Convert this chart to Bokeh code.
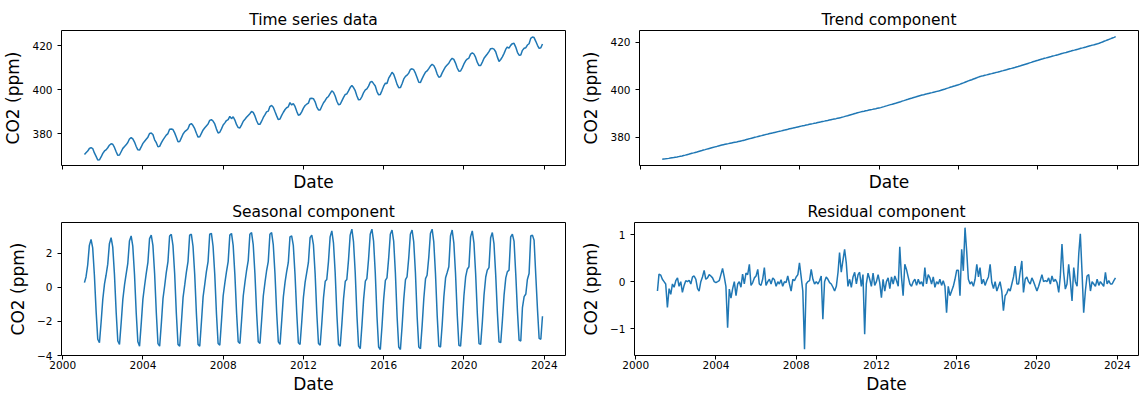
import numpy as np
import pandas as pd
from datetime import datetime
from bokeh.plotting import figure
from bokeh.layouts import column, row
from bokeh.models import (Range1d, FixedTicker, DatetimeTickFormatter, ColumnDataSource,
                          CustomLabelingPolicy)
from bokeh.embed import file_html
from bokeh.resources import INLINE

# ---------------- data (monthly, Jan 2001 .. Nov 2023, month-end dates) ----------------
first_month = "2001-02"   # month after the first month-end date
stop_month = "2024-01"

observed = [
    370.67, 371.46, 372.24, 373.40, 373.80, 373.37, 371.39, 369.81, 368.16, 368.30, 369.57, 371.19,  # 2001
    372.28, 372.78, 373.72, 374.88, 375.57, 375.31, 373.88, 371.90, 370.31, 370.45, 371.92, 373.45,  # 2002
    374.30, 375.05, 376.10, 377.70, 378.34, 377.74, 376.31, 374.32, 372.78, 372.68, 374.09, 375.70,  # 2003
    376.70, 377.58, 378.52, 380.20, 380.37, 379.72, 377.34, 376.01, 374.16, 374.35, 375.95, 377.30,  # 2004
    378.45, 379.43, 380.14, 382.11, 382.19, 381.96, 380.47, 378.53, 376.46, 376.59, 378.22, 379.94,  # 2005
    381.01, 381.57, 382.36, 384.21, 384.68, 383.77, 382.37, 380.28, 378.54, 378.73, 380.26, 381.79,  # 2006
    382.80, 383.62, 384.48, 386.11, 386.43, 385.83, 384.49, 382.18, 380.44, 380.75, 382.29, 384.04,  # 2007
    385.00, 386.05, 386.50, 387.90, 386.91, 387.75, 386.25, 384.17, 382.86, 382.70, 384.10, 385.75,  # 2008
    386.65, 387.52, 388.37, 389.15, 390.20, 389.75, 388.15, 385.93, 384.35, 384.33, 385.75, 387.45,  # 2009
    388.70, 389.97, 390.30, 392.35, 392.89, 392.10, 390.10, 388.15, 386.48, 386.75, 388.40, 389.80,  # 2010
    391.05, 391.85, 392.25, 394.15, 393.08, 393.75, 392.43, 390.20, 388.45, 388.78, 389.97, 391.65,  # 2011
    392.85, 393.44, 393.93, 395.98, 396.09, 395.95, 394.53, 392.15, 390.86, 390.82, 392.50, 394.11,  # 2012
    395.15, 396.31, 396.94, 398.21, 399.45, 398.86, 397.16, 394.77, 393.18, 393.40, 394.97, 396.56,  # 2013
    397.90, 398.08, 399.45, 400.98, 401.90, 400.98, 399.55, 397.15, 395.40, 395.57, 396.88, 398.72,  # 2014
    399.90, 400.37, 401.62, 403.39, 403.80, 402.76, 401.70, 399.17, 397.70, 397.87, 399.60, 401.61,  # 2015
    402.94, 402.82, 405.23, 406.44, 407.88, 407.00, 404.81, 402.42, 400.93, 400.95, 402.71, 404.90,  # 2016
    406.05, 406.58, 407.50, 409.18, 409.47, 409.05, 407.50, 405.39, 403.38, 403.32, 405.00, 406.57,  # 2017
    408.00, 408.49, 409.53, 410.70, 411.46, 410.96, 409.40, 407.09, 405.63, 405.92, 407.64, 409.10,  # 2018
    410.40, 411.17, 411.99, 413.34, 414.20, 413.72, 412.05, 409.82, 408.38, 408.47, 409.90, 411.67,  # 2019
    413.10, 413.86, 414.33, 416.12, 416.68, 416.16, 414.63, 412.34, 410.95, 410.97, 412.51, 414.23,  # 2020
    415.27, 416.19, 417.23, 418.57, 418.70, 418.36, 417.17, 414.74, 412.82, 413.67, 414.86, 416.45,  # 2021
    418.35, 419.31, 418.78, 420.06, 420.86, 420.98, 419.30, 416.94, 415.63, 415.72, 417.81, 418.80,  # 2022
    419.02, 420.23, 420.81, 423.24, 423.87, 423.60, 421.90, 420.11, 418.69, 418.99, 420.68,          # 2023
]

trend = [
    370.60, 370.70, 370.80, 370.90, 371.00, 371.12, 371.24, 371.36, 371.48, 371.60, 371.74, 371.87,
    372.00, 372.18, 372.37, 372.56, 372.75, 372.94, 373.13, 373.32, 373.51, 373.70, 373.90, 374.10,
    374.30, 374.50, 374.70, 374.90, 375.10, 375.29, 375.48, 375.67, 375.86, 376.05, 376.24, 376.42,
    376.60, 376.76, 376.92, 377.07, 377.22, 377.37, 377.52, 377.67, 377.81, 377.95, 378.10, 378.25,
    378.40, 378.58, 378.76, 378.95, 379.14, 379.33, 379.52, 379.71, 379.89, 380.06, 380.24, 380.42,
    380.60, 380.77, 380.94, 381.11, 381.28, 381.45, 381.62, 381.78, 381.94, 382.10, 382.27, 382.44,
    382.60, 382.77, 382.94, 383.11, 383.28, 383.45, 383.62, 383.78, 383.94, 384.10, 384.27, 384.44,
    384.60, 384.75, 384.90, 385.05, 385.20, 385.35, 385.50, 385.65, 385.80, 385.95, 386.10, 386.25,
    386.40, 386.55, 386.70, 386.85, 387.00, 387.15, 387.30, 387.45, 387.60, 387.75, 387.90, 388.05,
    388.20, 388.40, 388.60, 388.80, 389.00, 389.20, 389.40, 389.60, 389.80, 390.00, 390.20, 390.40,
    390.60, 390.75, 390.90, 391.05, 391.20, 391.35, 391.50, 391.65, 391.80, 391.95, 392.10, 392.25,
    392.40, 392.61, 392.82, 393.03, 393.24, 393.45, 393.65, 393.85, 394.06, 394.27, 394.48, 394.69,
    394.90, 395.12, 395.34, 395.56, 395.78, 396.00, 396.21, 396.42, 396.63, 396.85, 397.07, 397.29,
    397.50, 397.68, 397.85, 398.03, 398.20, 398.38, 398.55, 398.72, 398.90, 399.07, 399.25, 399.42,
    399.60, 399.82, 400.05, 400.27, 400.50, 400.72, 400.95, 401.17, 401.40, 401.62, 401.85, 402.07,
    402.30, 402.57, 402.84, 403.11, 403.38, 403.65, 403.91, 404.17, 404.43, 404.70, 404.96, 405.23,
    405.50, 405.68, 405.85, 406.03, 406.20, 406.38, 406.55, 406.72, 406.90, 407.07, 407.25, 407.42,
    407.60, 407.79, 407.98, 408.17, 408.36, 408.56, 408.75, 408.94, 409.13, 409.32, 409.51, 409.70,
    409.90, 410.12, 410.35, 410.57, 410.80, 411.02, 411.25, 411.47, 411.70, 411.92, 412.15, 412.37,
    412.60, 412.79, 412.98, 413.17, 413.36, 413.56, 413.75, 413.94, 414.13, 414.32, 414.51, 414.70,
    414.90, 415.09, 415.28, 415.47, 415.66, 415.86, 416.05, 416.24, 416.43, 416.62, 416.81, 417.00,
    417.20, 417.39, 417.58, 417.77, 417.96, 418.16, 418.35, 418.54, 418.73, 418.92, 419.11, 419.30,
    419.50, 419.78, 420.06, 420.34, 420.62, 420.90, 421.18, 421.46, 421.74, 422.02, 422.30,
]

seasonal = [
    0.27, 0.60, 1.30, 2.45, 2.80, 2.30, 0.70, -1.40, -3.05, -3.25, -2.05, -0.70,
    0.20, 0.70, 1.35, 2.55, 2.90, 2.35, 0.75, -1.45, -3.15, -3.35, -2.10, -0.70,
    0.15, 0.75, 1.40, 2.70, 3.00, 2.40, 0.75, -1.50, -3.20, -3.45, -2.15, -0.70,
    0.10, 0.80, 1.45, 2.85, 3.05, 2.45, 0.80, -1.50, -3.30, -3.45, -2.15, -0.65,
    0.10, 0.85, 1.50, 3.00, 3.10, 2.45, 0.80, -1.55, -3.35, -3.45, -2.10, -0.60,
    0.15, 0.85, 1.50, 3.05, 3.10, 2.40, 0.75, -1.55, -3.35, -3.45, -2.05, -0.55,
    0.20, 0.90, 1.50, 3.10, 3.15, 2.40, 0.75, -1.55, -3.30, -3.40, -2.00, -0.50,
    0.25, 0.90, 1.50, 3.05, 3.15, 2.45, 0.75, -1.50, -3.20, -3.30, -1.95, -0.50,
    0.30, 0.95, 1.55, 3.10, 3.20, 2.50, 0.80, -1.50, -3.20, -3.30, -1.95, -0.50,
    0.30, 0.95, 1.50, 3.10, 3.20, 2.50, 0.80, -1.50, -3.20, -3.35, -2.00, -0.55,
    0.30, 0.90, 1.45, 2.95, 3.00, 2.45, 0.75, -1.50, -3.25, -3.35, -2.05, -0.60,
    0.30, 0.85, 1.45, 2.90, 3.05, 2.50, 0.80, -1.55, -3.30, -3.40, -2.10, -0.60,
    0.35, 0.45, 1.50, 2.95, 3.30, 2.60, 0.85, -1.60, -3.35, -3.45, -2.15, -0.65,
    0.35, 0.45, 1.60, 3.05, 3.40, 2.65, 0.85, -1.65, -3.45, -3.60, -2.25, -0.70,
    0.35, 0.50, 1.65, 3.10, 3.40, 2.70, 0.85, -1.70, -3.50, -3.65, -2.30, -0.70,
    0.40, 0.55, 1.70, 3.10, 3.35, 2.70, 0.85, -1.70, -3.50, -3.65, -2.30, -0.70,
    0.45, 0.60, 1.70, 3.10, 3.35, 2.65, 0.85, -1.70, -3.50, -3.60, -2.25, -0.65,
    0.50, 0.70, 1.75, 3.15, 3.40, 2.65, 0.80, -1.65, -3.45, -3.50, -2.20, -0.55,
    0.55, 0.85, 1.20, 3.00, 3.35, 2.60, 0.80, -1.60, -3.40, -3.45, -2.15, -0.50,
    0.60, 1.05, 1.20, 2.95, 3.30, 2.60, 0.80, -1.55, -3.30, -3.35, -2.05, -0.45,
    0.60, 1.00, 1.15, 2.90, 3.20, 2.55, 0.75, -1.50, -3.20, -3.25, -1.95, -0.45,
    0.55, 0.90, 1.00, 2.95, 3.10, 2.70, 0.80, -1.40, -3.10, -3.15, -1.20, -0.55,
    -0.40, 0.45, 0.80, 3.00, 3.05, 2.75, 0.70, -1.30, -3.00, -3.05, -1.70,
]

residual = [
    -0.20, 0.16, 0.14, 0.05, 0.00, -0.05, -0.55, -0.15, -0.27, -0.05, -0.12, 0.02,
    0.08, -0.10, 0.00, -0.23, -0.08, 0.02, 0.00, 0.03, -0.05, 0.10, 0.12, 0.05,
    -0.15, -0.20, 0.00, 0.10, 0.24, 0.05, 0.08, 0.15, 0.12, 0.08, 0.00, -0.02,
    0.00, 0.02, 0.15, 0.28, 0.10, -0.10, -0.98, -0.16, -0.35, -0.15, 0.00, -0.30,
    -0.05, 0.00, -0.12, 0.16, -0.05, 0.18, 0.15, 0.37, -0.08, -0.02, 0.08, 0.12,
    0.26, -0.05, -0.08, 0.05, 0.30, -0.08, 0.00, 0.05, -0.05, 0.08, 0.04, -0.10,
    0.00, -0.05, 0.04, -0.10, 0.00, -0.02, 0.12, -0.05, -0.20, 0.05, 0.02, 0.10,
    0.15, 0.40, 0.10, -0.20, -1.44, -0.05, 0.00, 0.02, 0.26, 0.05, -0.05, 0.00,
    -0.05, 0.02, 0.12, -0.80, 0.00, 0.10, 0.05, -0.02, -0.05, -0.12, -0.20, -0.10,
    0.20, 0.62, 0.20, 0.45, 0.69, 0.40, -0.10, 0.05, -0.12, 0.10, 0.20, -0.05,
    0.15, 0.20, -0.10, 0.15, -1.12, -0.05, 0.18, 0.05, -0.10, 0.18, -0.08, 0.00,
    0.15, -0.02, -0.34, 0.05, -0.20, 0.00, 0.08, -0.15, 0.10, -0.05, 0.12, 0.02,
    -0.10, 0.74, 0.10, -0.30, 0.37, 0.26, 0.10, -0.05, -0.10, 0.00, 0.05, -0.08,
    0.05, -0.05, 0.00, -0.10, 0.30, -0.05, 0.15, 0.08, -0.05, 0.10, -0.12, 0.00,
    -0.05, 0.05, -0.08, 0.02, -0.10, -0.66, -0.10, -0.30, -0.20, -0.10, 0.05, 0.24,
    0.24, -0.30, 0.69, 0.23, 1.15, 0.65, 0.05, -0.05, 0.00, -0.10, 0.05, 0.37,
    0.10, 0.30, -0.05, 0.05, -0.08, 0.02, 0.10, 0.37, -0.02, -0.15, 0.00, -0.20,
    -0.10, 0.00, -0.20, -0.62, -0.30, -0.25, -0.15, -0.20, -0.05, 0.10, 0.33, -0.05,
    -0.05, 0.20, 0.44, -0.23, 0.05, 0.10, 0.00, -0.05, 0.08, 0.00, -0.10, -0.20,
    -0.10, 0.02, 0.15, 0.00, 0.02, 0.00, 0.08, -0.05, 0.12, 0.00, 0.05, -0.02,
    -0.23, 0.10, 0.80, 0.20, -0.16, -0.05, 0.37, 0.00, -0.41, 0.30, 0.00, -0.10,
    0.60, 1.02, 0.20, -0.66, -0.20, 0.12, 0.15, -0.20, 0.00, -0.05, -0.10, 0.05,
    -0.08, 0.00, -0.05, -0.10, 0.20, -0.05, 0.02, -0.05, -0.05, 0.02, 0.08,
]

tick_years = [2000, 2004, 2008, 2012, 2016, 2020, 2024]
titles = ["Time series data", "Trend component", "Seasonal component", "Residual component"]
y_ticks = [[380, 400, 420], [380, 400, 420], [-4, -2, 0, 2], [-1, 0, 1]]

# ---------------- build ----------------
months = np.arange(np.datetime64(first_month), np.datetime64(stop_month), dtype="datetime64[M]")
dates = pd.to_datetime(months.astype("datetime64[D]") - np.timedelta64(1, "D"))
src = ColumnDataSource(dict(date=dates, observed=observed, trend=trend,
                            seasonal=seasonal, residual=residual))

FONT = "DejaVu Sans"
BLUE = "#1f77b4"
epoch = datetime(1970, 1, 1)
tick_ms = [(datetime(y, 1, 1) - epoch).total_seconds() * 1000.0 for y in tick_years]
x_start, x_end = datetime(1999, 12, 10), datetime(2025, 1, 22)
y_ranges = [(365.7, 426.8), (368.0, 424.9), (-4.0, 3.79), (-1.574, 1.26)]
cols = ["observed", "trend", "seasonal", "residual"]

hide_labels = CustomLabelingPolicy(code="""
for (const i of indices) { indices.unset(i) }
return indices
""")


def make(i, left, top_row):
    width = 578 if left else 561
    bl, br = (61, 13) if left else (56, 1)
    if top_row:
        height, bt, bb = 196, 30, 31
    else:
        height, bt, bb = 200, 26, 40
    p = figure(width=width, height=height, x_axis_type="datetime",
               x_range=Range1d(x_start, x_end), y_range=Range1d(*y_ranges[i]),
               output_backend="svg", toolbar_location=None, tools="",
               min_border_left=bl, min_border_right=br,
               min_border_top=bt, min_border_bottom=bb)
    p.line(x="date", y=cols[i], source=src, line_color=BLUE, line_width=1.5)
    p.title.text = titles[i]
    p.title.align = "center"
    p.title.text_font = FONT
    p.title.text_font_size = "15.5px"
    p.title.text_font_style = "normal"
    p.title.text_color = "black"
    p.title.standoff = 3
    p.xgrid.visible = False
    p.ygrid.visible = False
    p.outline_line_color = "black"
    p.outline_line_width = 1
    p.outline_line_alpha = 1
    p.background_fill_color = "white"
    p.border_fill_color = "white"
    for ax in [p.xaxis[0], p.yaxis[0]]:
        ax.axis_line_color = None
        ax.major_tick_line_color = "black"
        ax.major_tick_in = 0
        ax.major_tick_out = 4
        ax.minor_tick_line_color = None
        ax.major_label_text_font = FONT
        ax.major_label_text_font_size = "10.5px"
        ax.major_label_text_color = "black"
        ax.axis_label_text_font = FONT
        ax.axis_label_text_font_size = "17px"
        ax.axis_label_text_font_style = "normal"
        ax.axis_label_text_color = "black"
    xa = p.xaxis[0]
    xa.axis_label = "Date"
    xa.ticker = FixedTicker(ticks=tick_ms)
    xa.formatter = DatetimeTickFormatter(years="%Y", months="%Y", days="%Y")
    if top_row:
        # shared-x style: tick marks only, no tick labels (hidden labels take no space)
        xa.major_label_policy = hide_labels
        xa.major_label_text_font_size = "0px"
        xa.major_label_standoff = 0
        xa.axis_label_standoff = 2
    else:
        xa.major_label_standoff = 1
        xa.axis_label_standoff = 2
    ya = p.yaxis[0]
    ya.axis_label = "CO2 (ppm)"
    ya.ticker = FixedTicker(ticks=y_ticks[i])
    ya.major_label_standoff = 5
    ya.axis_label_standoff = 6
    ya.major_label_overrides = {t: ("\u2212" + str(abs(t)) if t < 0 else str(t)) for t in y_ticks[i]}
    return p


p1 = make(0, True, True)
p2 = make(1, False, True)
p3 = make(2, True, False)
p4 = make(3, False, False)
layout = column(row(p1, p2), row(p3, p4))

open("out.html", "w").write(file_html(layout, INLINE))
